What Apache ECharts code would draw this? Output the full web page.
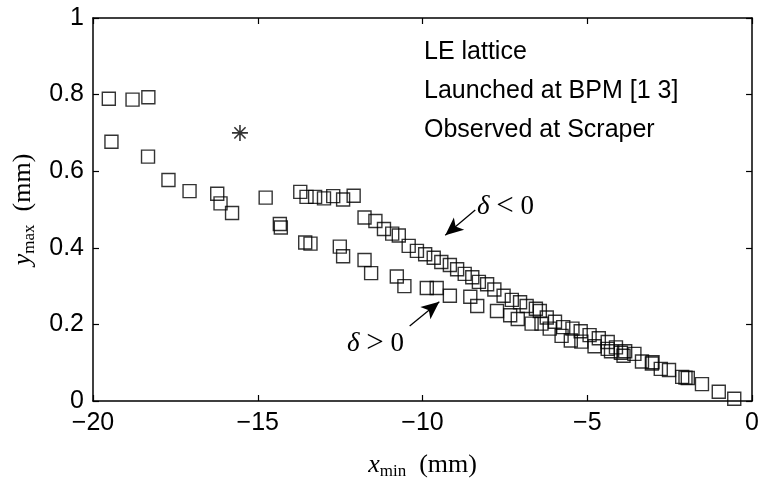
<!DOCTYPE html>
<html><head><meta charset="utf-8">
<script src="https://cdn.jsdelivr.net/npm/echarts@6/dist/echarts.min.js"></script>
<style>html,body{margin:0;padding:0;background:#fff}#c{width:762px;height:485px}</style>
</head><body><div id="c"></div>
<script>
var xTicks = [-20, -15, -10, -5, 0];
var yTicks = [0, 0.2, 0.4, 0.6, 0.8, 1];

// delta < 0 branch (upper)
var upperBranch = [
 [-19.52,0.789],[-18.80,0.787],[-18.32,0.793],
 [-13.71,0.546],[-13.52,0.533],[-13.26,0.533],[-12.99,0.529],[-12.71,0.535],[-12.41,0.526],[-12.09,0.536],
 [-11.76,0.479],[-11.43,0.470],[-11.17,0.449],[-10.92,0.437],[-10.72,0.432],[-10.42,0.405],[-10.17,0.392],
 [-9.92,0.383],[-9.66,0.374],[-9.43,0.363],[-9.17,0.355],[-8.95,0.344],[-8.72,0.332],[-8.49,0.323],
 [-8.29,0.311],[-8.04,0.305],[-7.82,0.291],[-7.54,0.275],[-7.29,0.264],[-7.04,0.258],[-6.84,0.248],
 [-6.56,0.241],[-6.44,0.235],[-6.23,0.218],[-5.98,0.207],[-5.73,0.193],[-5.45,0.189],[-5.20,0.182],
 [-4.93,0.172],[-4.65,0.164],[-4.38,0.154],[-4.13,0.140],[-3.85,0.130],[-3.57,0.123],[-3.02,0.101],
 [-2.52,0.081],[-2.02,0.061],[-1.52,0.044],[-1.01,0.024],[-0.54,0.006]
];
// delta > 0 branch (lower)
var lowerBranch = [
 [-19.44,0.677],[-18.33,0.638],[-17.71,0.577],[-17.07,0.548],[-16.23,0.541],[-16.13,0.516],[-15.78,0.491],
 [-14.76,0.531],[-14.33,0.462],[-14.30,0.453],[-13.56,0.414],[-13.40,0.411],[-12.51,0.403],[-12.41,0.378],
 [-11.76,0.368],[-11.56,0.334],[-10.78,0.325],[-10.55,0.300],[-9.87,0.295],[-9.57,0.295],[-9.17,0.275],
 [-8.55,0.272],[-8.34,0.248],[-7.74,0.235],[-7.34,0.224],[-7.11,0.214],[-6.69,0.202],[-6.39,0.202],
 [-6.14,0.189],[-5.78,0.170],[-5.50,0.158],[-5.18,0.155],[-4.78,0.143],[-4.38,0.136],[-4.28,0.130],
 [-3.98,0.126],[-3.90,0.118],[-3.34,0.103],[-3.04,0.098],[-2.77,0.084],[-2.12,0.063],[-1.95,0.060]
];
var starPoint = [[-15.54, 0.700]];

var arrowNeg = [[-8.40, 0.499], [-9.31, 0.433]];
var arrowPos = [[-10.39, 0.196], [-9.49, 0.259]];

var chart = echarts.init(document.getElementById('c'), null, {renderer:'canvas'});
var sans = 'Liberation Sans, Arial, Helvetica, sans-serif';
var serif = 'Liberation Serif, DejaVu Serif, serif';
var fs = 25;

function axisCommon(pos, showLabel, isX) {
  return {
    type: 'value', position: pos,
    min: isX ? -20 : 0, max: isX ? 0 : 1, interval: isX ? 5 : 0.2,
    axisLine: {show: true, onZero: false, lineStyle: {color: '#000', width: 1.5}},
    axisTick: {show: true, inside: true, length: 6, lineStyle: {color: '#000', width: 1.2}},
    splitLine: {show: false},
    axisLabel: {show: showLabel, color: '#000', fontFamily: sans, fontSize: fs, margin: isX ? 10 : 9,
      formatter: function (v) { var s = isX ? String(v) : String(Math.round(v*10)/10); return s.replace('-', '\u2212'); }}
  };
}
var labelRich = {
  i: {fontFamily: serif, fontStyle: 'italic', fontSize: 26, color: '#000'},
  s: {fontFamily: serif, fontSize: 17, color: '#000', padding: [12,0,0,0]},
  n: {fontFamily: serif, fontSize: 26, color: '#000'}
};
var xMain = axisCommon('bottom', true, true);
xMain.name = '{i|x}{s|min}{n|  (mm)}';
xMain.nameLocation = 'middle';
xMain.nameGap = 50;
xMain.nameTextStyle = {rich: labelRich};
var yMain = axisCommon('left', true, false);
yMain.name = '{i|y}{s|max}{n|  (mm)}';
yMain.nameLocation = 'middle';
yMain.nameGap = 55;
yMain.nameTextStyle = {rich: labelRich};

var sq = {color: 'rgba(0,0,0,0)', borderColor: '#000', borderWidth: 1.4};
function arrowLine(a) {
  return [{coord: a[0]}, {coord: a[1]}];
}
var deltaRich = {
  i: {fontStyle: 'italic', fontFamily: serif, fontSize: 27, fill: '#000'},
  o: {fontFamily: serif, fontSize: 31, fill: '#000'},
  n: {fontFamily: serif, fontSize: 27, fill: '#000'}
};

chart.setOption({
  animation: false,
  backgroundColor: '#fff',
  grid: {left: 93, right: 5, top: 18, bottom: 70, containLabel: false},
  xAxis: [xMain, axisCommon('top', false, true)],
  yAxis: [yMain, axisCommon('right', false, false)],
  series: [
    {type: 'scatter', name: 'delta<0', data: upperBranch, symbol: 'rect', symbolSize: 13, itemStyle: sq,
     markLine: {silent: true, symbol: ['none', 'arrow'], symbolSize: [12, 18], precision: 4,
       label: {show: false}, lineStyle: {color: '#000', width: 1.3, type: 'solid'},
       data: [arrowLine(arrowNeg), arrowLine(arrowPos)]}},
    {type: 'scatter', name: 'delta>0', data: lowerBranch, symbol: 'rect', symbolSize: 13, itemStyle: sq},
    {type: 'scatter', name: 'star', data: starPoint,
     symbol: 'path://M0,-10L0,10M-10,0L10,0M-7,-7L7,7M-7,7L7,-7', symbolSize: 16,
     itemStyle: {color: 'rgba(0,0,0,0)', borderColor: '#000', borderWidth: 1.6}}
  ],
  graphic: [
    {type: 'text', left: 424, top: 40, style: {text: 'LE lattice', font: fs + 'px ' + sans, fill: '#000'}},
    {type: 'text', left: 424, top: 79, style: {text: 'Launched at BPM [1 3]', font: fs + 'px ' + sans, fill: '#000'}},
    {type: 'text', left: 424, top: 118, style: {text: 'Observed at Scraper', font: fs + 'px ' + sans, fill: '#000'}},
    {type: 'text', left: 477, top: 191, style: {text: '{i|\u03b4}{n| }{o|<}{n| 0}', rich: deltaRich}},
    {type: 'text', left: 347, top: 328, style: {text: '{i|\u03b4}{n| }{o|>}{n| 0}', rich: deltaRich}}
  ]
});
</script></body></html>
